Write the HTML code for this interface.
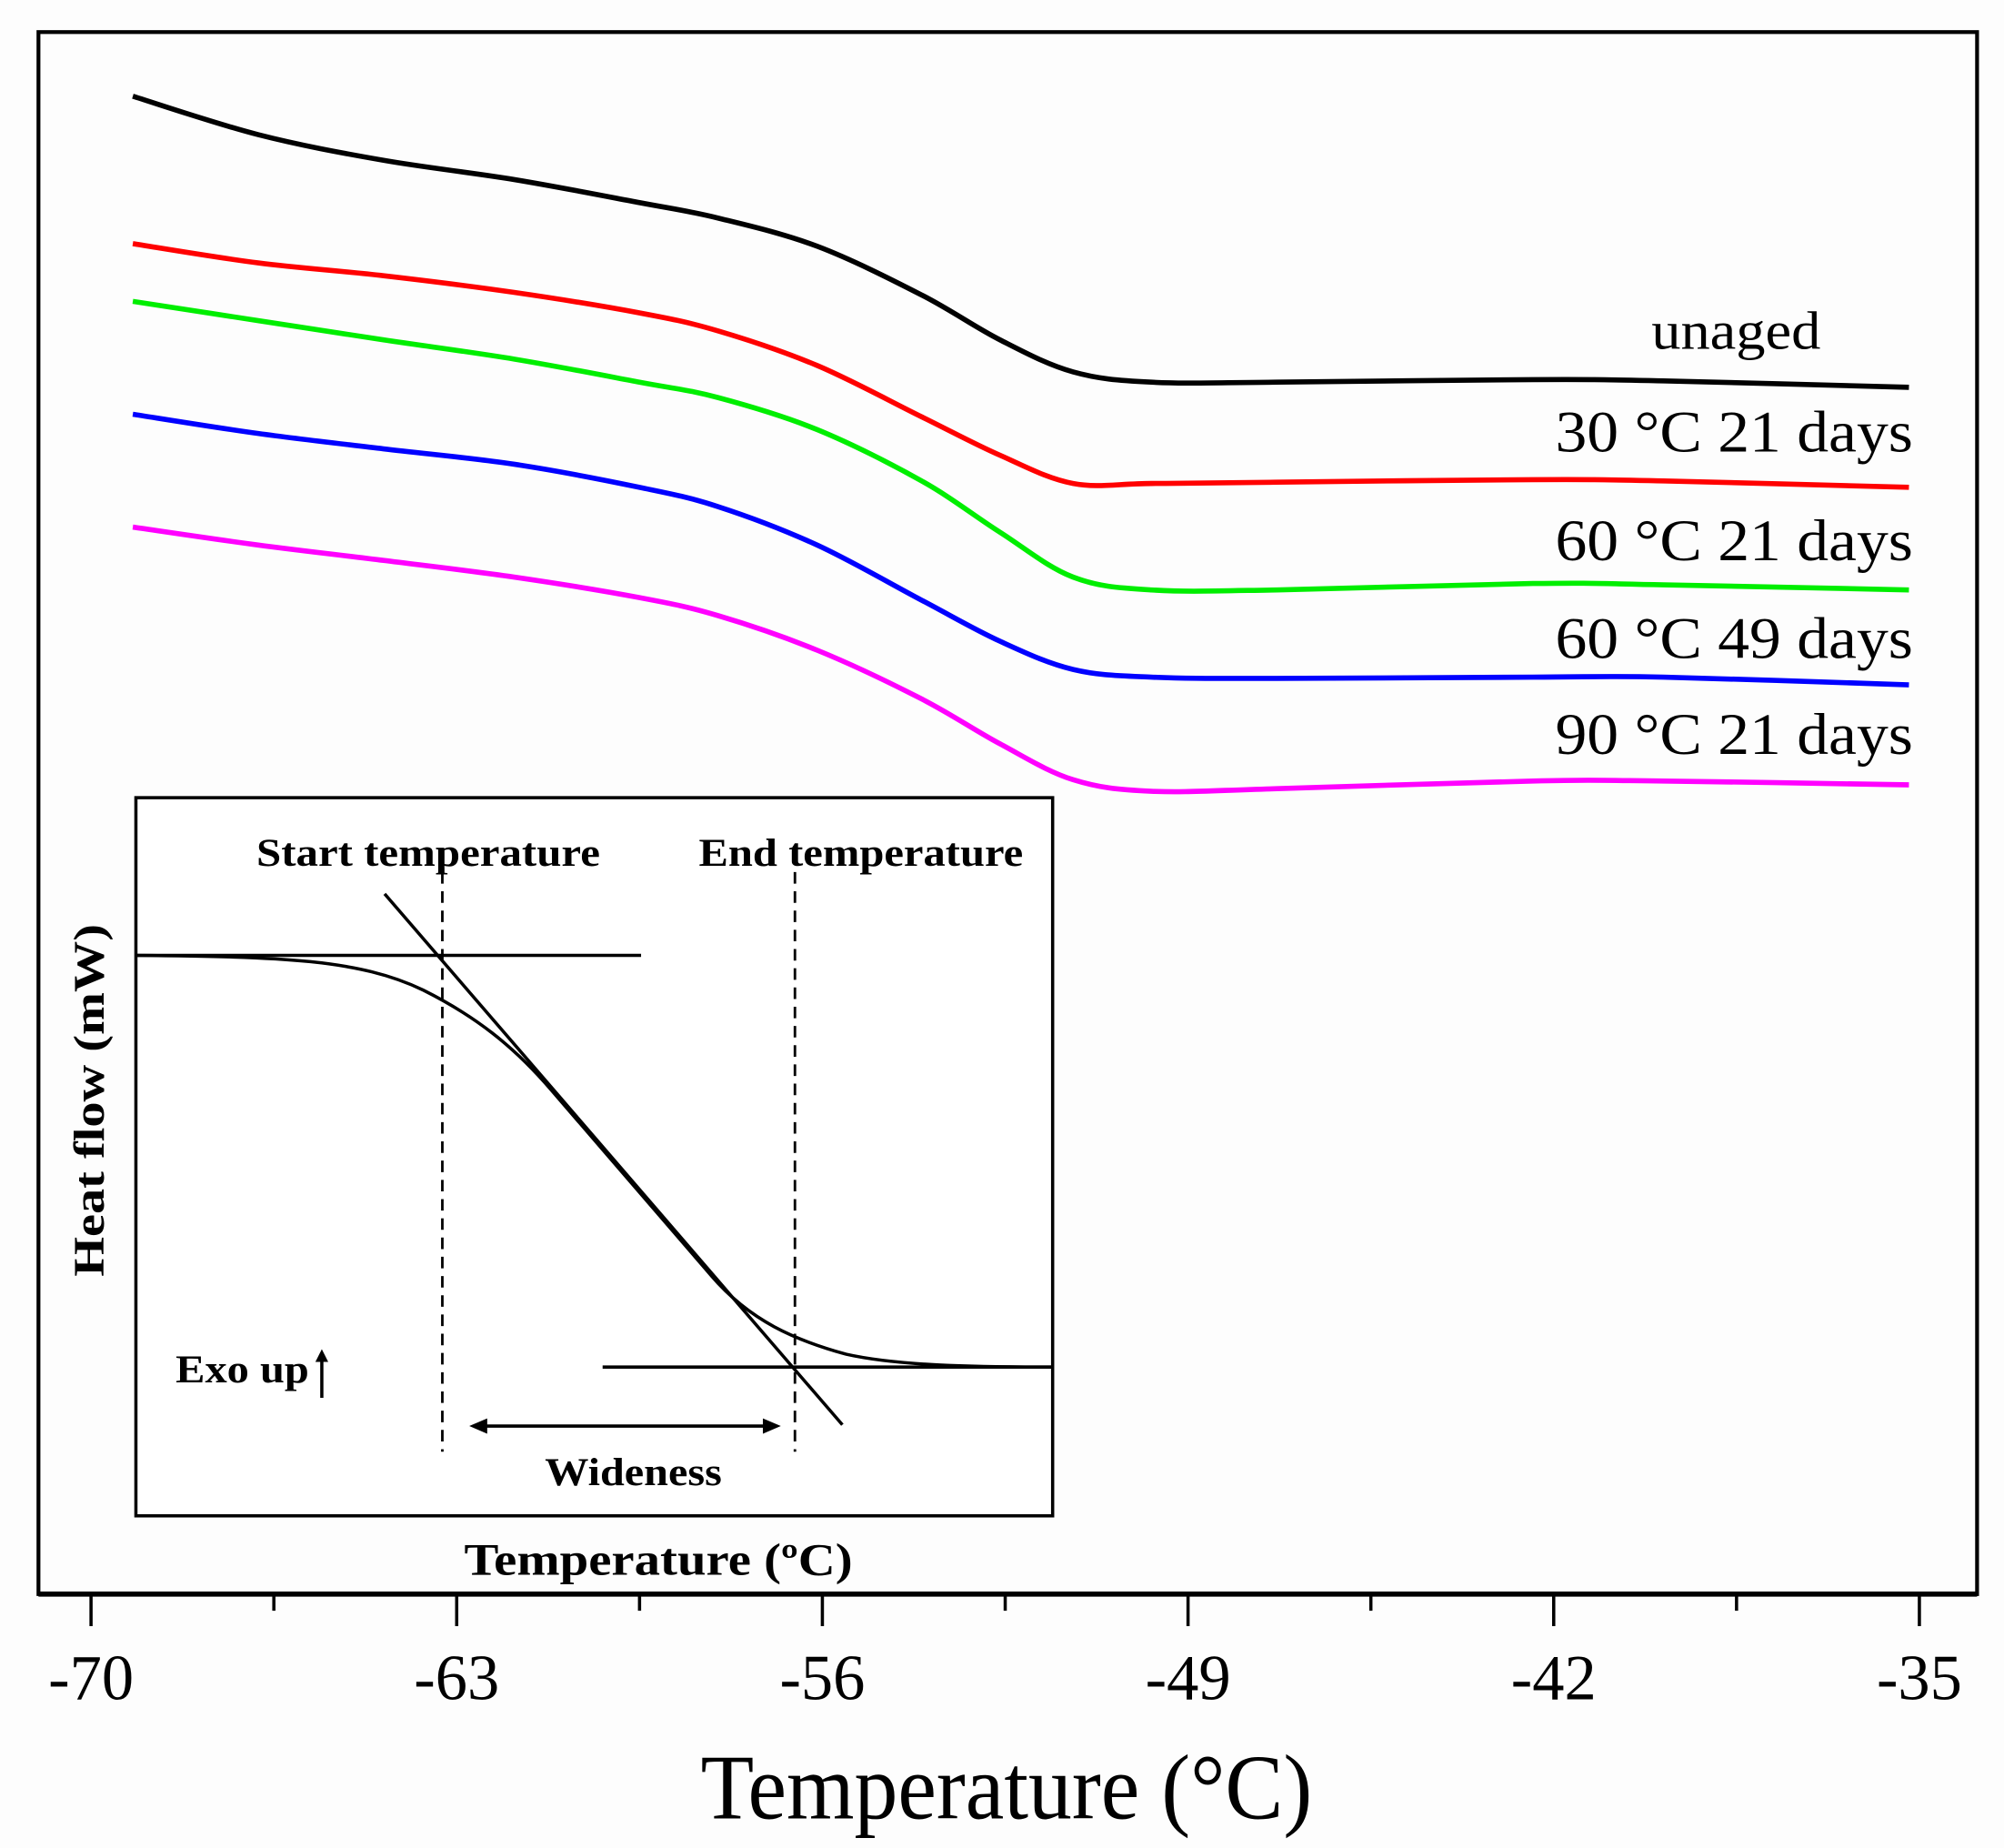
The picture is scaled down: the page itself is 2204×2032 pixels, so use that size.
<!DOCTYPE html>
<html><head><meta charset="utf-8"><style>
html,body{margin:0;padding:0;background:#fdfdfd;}
svg{display:block;font-family:"Liberation Serif",serif;}
</style></head><body>
<svg id="chart" width="2204" height="2032" viewBox="0 0 1563 1441" xmlns="http://www.w3.org/2000/svg">
<rect x="0" y="0" width="1563" height="1441" fill="#fdfdfd"/>
<rect x="30" y="25" width="1512" height="1218" fill="none" stroke="#000" stroke-width="3"/>
<line x1="30" y1="1243" x2="1542" y2="1243" stroke="#000" stroke-width="4"/>
<g id="ticks"></g>
<g id="series"></g>
<text x="785" y="1418" font-size="72" text-anchor="middle" textLength="477" lengthAdjust="spacingAndGlyphs">Temperature (°C)</text>
<g id="labels" font-size="46" text-anchor="end">
<text x="1420" y="272" font-size="42" textLength="132" lengthAdjust="spacingAndGlyphs">unaged</text>
<text x="1492" y="352" textLength="279" lengthAdjust="spacingAndGlyphs">30 °C 21 days</text>
<text x="1492" y="437" textLength="279" lengthAdjust="spacingAndGlyphs">60 °C 21 days</text>
<text x="1492" y="513" textLength="279" lengthAdjust="spacingAndGlyphs">60 °C 49 days</text>
<text x="1492" y="588" textLength="279" lengthAdjust="spacingAndGlyphs">90 °C 21 days</text>
</g>
<g id="inset" font-weight="bold">
<rect x="106" y="622" width="715" height="560" fill="#fff" stroke="#000" stroke-width="2.5"/>
<text x="200" y="675" font-size="31" textLength="268" lengthAdjust="spacingAndGlyphs">Start temperature</text>
<text x="545" y="675" font-size="31" textLength="253" lengthAdjust="spacingAndGlyphs">End temperature</text>
<line x1="106" y1="745" x2="500" y2="745" stroke="#000" stroke-width="2.5"/>
<line x1="470" y1="1066" x2="821" y2="1066" stroke="#000" stroke-width="2.5"/>
<line x1="300" y1="697" x2="657" y2="1111" stroke="#000" stroke-width="2.5"/>
<line x1="345" y1="680" x2="345" y2="1132" stroke="#000" stroke-width="2" stroke-dasharray="9,6"/>
<line x1="620" y1="680" x2="620" y2="1132" stroke="#000" stroke-width="2" stroke-dasharray="9,6"/>
<path d="M106,745 C220,746 280,748 330,772 C370,792 400,815 430,850 L555,995 C585,1030 620,1045 660,1056 C700,1065 760,1066 821,1066" fill="none" stroke="#000" stroke-width="2.5"/>
<line x1="375" y1="1112" x2="600" y2="1112" stroke="#000" stroke-width="2.5"/>
<path d="M366,1112 l14,-6 l0,12 z M609,1112 l-14,-6 l0,12 z" fill="#000"/>
<text x="425" y="1158" font-size="31" textLength="138" lengthAdjust="spacingAndGlyphs">Wideness</text>
<text x="137" y="1078" font-size="31" textLength="104" lengthAdjust="spacingAndGlyphs">Exo up</text>
<line x1="251" y1="1090" x2="251" y2="1058" stroke="#000" stroke-width="2.5"/>
<path d="M251,1052 l-5,10 l10,0 z" fill="#000"/>
<text transform="translate(81,858) rotate(-90)" font-size="34" text-anchor="middle" textLength="275" lengthAdjust="spacingAndGlyphs">Heat flow (mW)</text>
<text x="362" y="1228" font-size="35" textLength="303" lengthAdjust="spacingAndGlyphs">Temperature (ºC)</text>
</g>
</svg>
<script>
const temps = [-69.2,-66.8,-64.4,-61.9,-59.5,-58.0,-56.1,-54.1,-52.6,-51.2,-49.7,-47.3,-42.4,-39.9,-35.2];
const unaged = [1168,1138,1118,1103,1085,1073,1051,1013,978,953,945,945,947,946,941];
const aged30c21d = [1053,1038,1028,1015,999,985,958,918,888,866,866,867,869,868,863];
const aged60c21d = [1008,993,978,963,945,933,908,868,828,793,783,783,788,787,783];
const aged60c49d = [920,905,893,881,863,848,818,775,743,721,715,714,715,715,709];
const aged90c21d = [832,818,806,793,777,763,736,698,663,635,626,628,634,634,631];
const tickValues = [-70,-63,-56,-49,-42,-35];
const tickLabels = ["-70","-63","-56","-49","-42","-35"];
const minorTicks = [-66.5,-59.5,-52.5,-45.5,-38.5];
const seriesColors = ["#000000","#ff0000","#00ee00","#0000ff","#ff00ff"];
const seriesNames = ["unaged-curve","curve-30c-21d","curve-60c-21d","curve-60c-49d","curve-90c-21d"];

const NS="http://www.w3.org/2000/svg";
function xScale(t){return 71+(t+70)/35*1426;}
function yScale(v){return 1243-v;}
const tg=document.getElementById('ticks');
tickValues.forEach((t,i)=>{
  const l=document.createElementNS(NS,'line');
  l.setAttribute('x1',xScale(t));l.setAttribute('x2',xScale(t));
  l.setAttribute('y1',1243);l.setAttribute('y2',1268);
  l.setAttribute('stroke','#000');l.setAttribute('stroke-width','2.5');
  
  
  tg.appendChild(l);
  const tx=document.createElementNS(NS,'text');
  tx.setAttribute('x',xScale(t));tx.setAttribute('y',1325);
  tx.setAttribute('font-size','50');tx.setAttribute('text-anchor','middle');
  tx.textContent=tickLabels[i];
  
  
  tg.appendChild(tx);
});
minorTicks.forEach(t=>{
  const l=document.createElementNS(NS,'line');
  l.setAttribute('x1',xScale(t));l.setAttribute('x2',xScale(t));
  l.setAttribute('y1',1243);l.setAttribute('y2',1256);
  l.setAttribute('stroke','#000');l.setAttribute('stroke-width','2.5');
  
  
  tg.appendChild(l);
});
const sg=document.getElementById('series');
[unaged,aged30c21d,aged60c21d,aged60c49d,aged90c21d].forEach((vals,i)=>{
  const pts=vals.map((v,j)=>[xScale(temps[j]),yScale(v)]);
  let d='M'+pts[0][0]+','+pts[0][1];
  for(let k=0;k<pts.length-1;k++){
    const p0=pts[Math.max(0,k-1)],p1=pts[k],p2=pts[k+1],p3=pts[Math.min(pts.length-1,k+2)];
    const c1x=p1[0]+(p2[0]-p0[0])/6,c1y=p1[1]+(p2[1]-p0[1])/6;
    const c2x=p2[0]-(p3[0]-p1[0])/6,c2y=p2[1]-(p3[1]-p1[1])/6;
    d+=' C'+c1x+','+c1y+' '+c2x+','+c2y+' '+p2[0]+','+p2[1];
  }
  const p=document.createElementNS(NS,'path');
  p.setAttribute('d',d);p.setAttribute('fill','none');
  p.setAttribute('stroke',seriesColors[i]);p.setAttribute('stroke-width','4');
  
  
  sg.appendChild(p);
});
</script>
</body></html>
